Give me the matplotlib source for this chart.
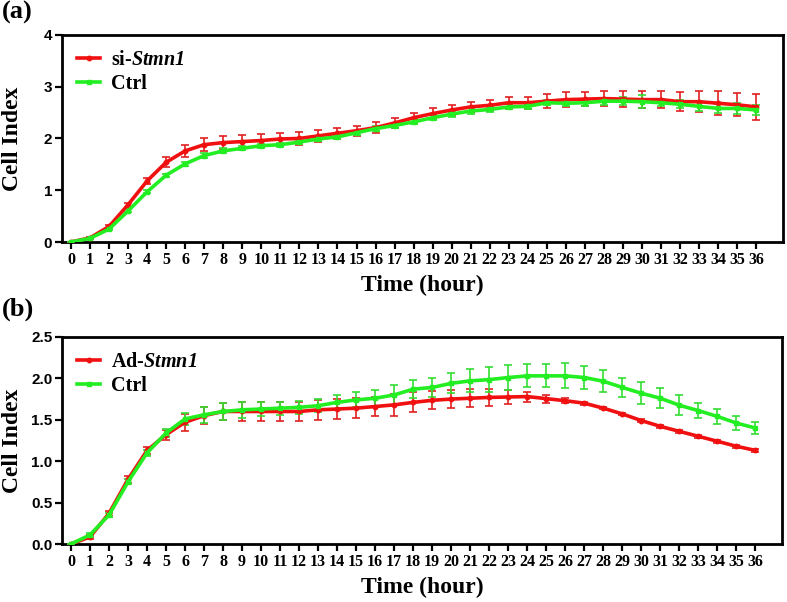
import matplotlib
matplotlib.use("Agg")
import matplotlib.pyplot as plt

plt.rcParams["mathtext.fontset"] = "custom"
plt.rcParams["mathtext.it"] = "Liberation Serif:bold:italic"
plt.rcParams["mathtext.rm"] = "Liberation Serif:bold:italic"

# ─── Data ─────────────────────────────────────────────────────────────────────
hours = list(range(37))

# (a) si-Stmn1 vs Ctrl
a_si = [0.00, 0.08, 0.30, 0.72, 1.18, 1.54, 1.76, 1.88, 1.92, 1.94, 1.96, 1.99,
        2.00, 2.05, 2.10, 2.15, 2.21, 2.30, 2.40, 2.48, 2.55, 2.61, 2.64, 2.69,
        2.69, 2.72, 2.75, 2.76, 2.77, 2.76, 2.75, 2.75, 2.71, 2.71, 2.68, 2.65,
        2.61]
a_si_err = [0.00, 0.02, 0.03, 0.04, 0.05, 0.10, 0.12, 0.13, 0.13, 0.13, 0.12,
            0.12, 0.12, 0.11, 0.11, 0.10, 0.10, 0.10, 0.10, 0.10, 0.10, 0.10,
            0.11, 0.12, 0.12, 0.13, 0.14, 0.14, 0.15, 0.15, 0.16, 0.17, 0.18,
            0.20, 0.23, 0.22, 0.25]
a_ctrl = [0.00, 0.07, 0.25, 0.60, 0.97, 1.29, 1.51, 1.67, 1.76, 1.81, 1.86,
          1.88, 1.93, 1.99, 2.03, 2.11, 2.19, 2.25, 2.32, 2.40, 2.47, 2.53,
          2.56, 2.61, 2.62, 2.69, 2.68, 2.69, 2.72, 2.72, 2.71, 2.69, 2.66,
          2.62, 2.58, 2.58, 2.55]
a_ctrl_err = [0.00, 0.01, 0.02, 0.03, 0.03, 0.03, 0.04, 0.05, 0.05, 0.04, 0.04,
              0.04, 0.04, 0.04, 0.04, 0.04, 0.05, 0.05, 0.05, 0.05, 0.05, 0.05,
              0.05, 0.05, 0.05, 0.05, 0.06, 0.06, 0.07, 0.08, 0.12, 0.07, 0.08,
              0.08, 0.09, 0.10, 0.10]

# (b) Ad-Stmn1 vs Ctrl
b_ad = [0.00, 0.085, 0.37, 0.78, 1.13, 1.32, 1.47, 1.55, 1.60, 1.60, 1.60,
        1.60, 1.60, 1.62, 1.63, 1.64, 1.66, 1.68, 1.71, 1.735, 1.75, 1.76,
        1.77, 1.775, 1.78, 1.755, 1.73, 1.70, 1.64, 1.57, 1.49, 1.42, 1.36,
        1.30, 1.24, 1.18, 1.13]
b_ad_err = [0.00, 0.02, 0.03, 0.04, 0.04, 0.06, 0.10, 0.10, 0.10, 0.12, 0.12,
            0.12, 0.12, 0.12, 0.12, 0.12, 0.12, 0.13, 0.12, 0.11, 0.11, 0.11,
            0.10, 0.08, 0.06, 0.05, 0.03, 0.02, 0.015, 0.015, 0.015, 0.02,
            0.015, 0.015, 0.015, 0.015, 0.015]
b_ctrl = [0.00, 0.11, 0.35, 0.75, 1.10, 1.34, 1.51, 1.56, 1.60, 1.62, 1.63,
          1.64, 1.65, 1.67, 1.71, 1.74, 1.76, 1.80, 1.87, 1.89, 1.94, 1.97,
          1.985, 2.01, 2.03, 2.03, 2.03, 2.01, 1.965, 1.89, 1.82, 1.76, 1.675,
          1.61, 1.54, 1.46, 1.40]
b_ctrl_err = [0.00, 0.02, 0.02, 0.03, 0.04, 0.05, 0.07, 0.10, 0.10, 0.10, 0.08,
              0.08, 0.08, 0.08, 0.09, 0.09, 0.10, 0.12, 0.11, 0.12, 0.12, 0.14,
              0.15, 0.15, 0.14, 0.14, 0.15, 0.14, 0.13, 0.12, 0.13, 0.12, 0.12,
              0.09, 0.09, 0.08, 0.07]

RED = "#f01010"
GREEN = "#22ee22"
SERIF = ["Liberation Serif", "DejaVu Serif"]
SANS = ["Liberation Sans", "DejaVu Sans"]


def draw_panel(ax, red, red_err, green, green_err, red_label, ylim, yticks, yfmt):
    ax.errorbar(hours, red, yerr=red_err, color=RED, ecolor="#e02020",
                lw=2.6, marker="o", ms=3.2, capsize=3, elinewidth=1.2,
                capthick=1.2, label=red_label, zorder=3)
    ax.errorbar(hours, green, yerr=green_err, color=GREEN, ecolor="#33dd33",
                lw=2.6, marker="s", ms=3.2, capsize=3, elinewidth=1.2,
                capthick=1.2, label="Ctrl", zorder=3)

    ax.set_xlim(-0.47, 37.4)
    ax.set_ylim(*ylim)
    ax.set_xticks(hours)
    ax.set_xticklabels([str(h) for h in hours], family=SERIF,
                       fontweight="bold", fontsize=11.5)
    ax.set_yticks(yticks)
    ax.set_yticklabels([yfmt.format(v) for v in yticks], family=SANS,
                       fontweight="bold", fontsize=11)
    ax.tick_params(direction="out", length=5, width=1.6, pad=2)

    for sp in ax.spines.values():
        sp.set_linewidth(2)

    ax.set_ylabel("Cell Index", family=SERIF, fontweight="bold", fontsize=17)
    ax.yaxis.set_label_coords(-0.054, 0.5)   # same x in both panels
    ax.set_xlabel("Time (hour)", family=SERIF, fontweight="bold",
                  fontsize=17, labelpad=5)

    # legend shows only line + marker, no error bar glyph
    handles, labels = ax.get_legend_handles_labels()
    handles = [h[0] for h in handles]
    ax.legend(handles, labels, loc="upper left", frameon=False,
              handlelength=1.15, handletextpad=0.55, labelspacing=0.2,
              borderaxespad=0.35, borderpad=0.4,
              prop={"family": SERIF, "weight": "bold", "size": 14.5})


fig = plt.figure(figsize=(7.87, 6.02), dpi=100)

ax_a = fig.add_axes([0.0788, 0.598, 0.916, 0.344])
draw_panel(ax_a, a_si, a_si_err, a_ctrl, a_ctrl_err,
           r"si-$\mathit{Stmn1}$", (0, 4), [0, 1, 2, 3, 4], "{:.0f}")

ax_b = fig.add_axes([0.0788, 0.0963, 0.915, 0.344])
draw_panel(ax_b, b_ad, b_ad_err, b_ctrl, b_ctrl_err,
           r"Ad-$\mathit{Stmn1}$", (0, 2.5),
           [0.0, 0.5, 1.0, 1.5, 2.0, 2.5], "{:.1f}")

fig.text(0.003, 0.998, "(a)", family=SERIF, fontweight="bold", fontsize=19,
         va="top", ha="left")
fig.text(0.003, 0.505, "(b)", family=SERIF, fontweight="bold", fontsize=19,
         va="top", ha="left")

fig.savefig("out.png", dpi=100)
